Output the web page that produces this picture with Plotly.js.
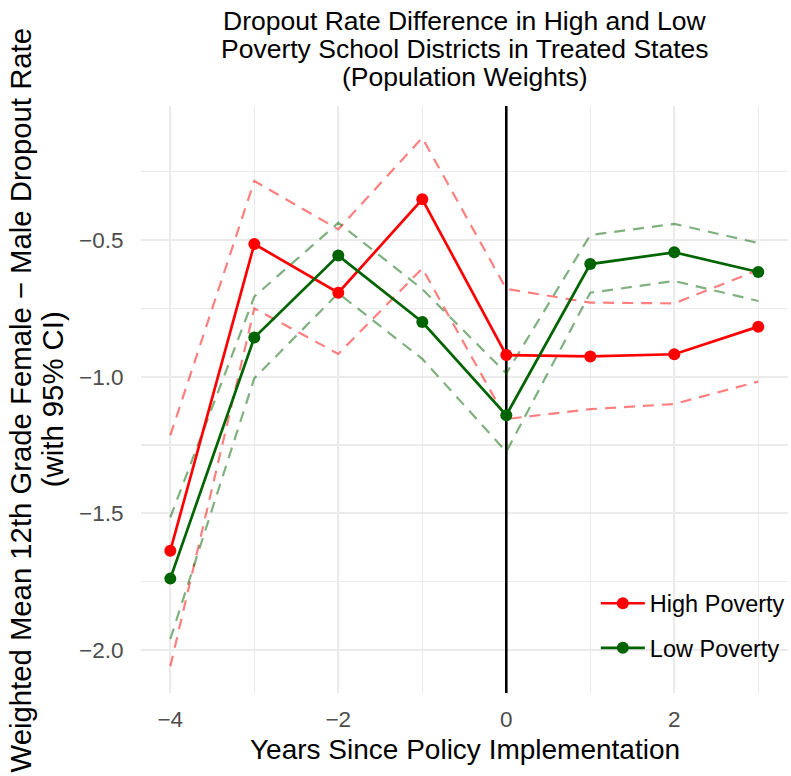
<!DOCTYPE html>
<html>
<head>
<meta charset="utf-8">
<script src="https://cdn.plot.ly/plotly-3.0.1.min.js"></script>
<style>html,body{margin:0;padding:0;background:#fff;}#chart{width:791px;height:776px;}</style>
</head>
<body>
<div id="chart"></div>
<script>
const years = [-4, -3, -2, -1, 0, 1, 2, 3];
const highMean  = [-1.637, -0.515, -0.693, -0.351, -0.921, -0.926, -0.918, -0.817];
const highUpper = [-1.215, -0.284, -0.461, -0.126, -0.679, -0.729, -0.732, -0.610];
const highLower = [-2.060, -0.750, -0.917, -0.604, -1.155, -1.119, -1.100, -1.018];
const lowMean   = [-1.739, -0.857, -0.557, -0.800, -1.141, -0.588, -0.545, -0.617];
const lowUpper  = [-1.515, -0.707, -0.437, -0.680, -0.988, -0.482, -0.441, -0.511];
const lowLower  = [-1.960, -1.006, -0.695, -0.935, -1.275, -0.693, -0.650, -0.723];
const xTicks = [-4, -2, 0, 2];
const yTicks = [-2.0, -1.5, -1.0, -0.5];
const xRange = [-4.349, 3.354];
const yRange = [-2.1575, -0.0097];
const policyYear = 0;

const FONT = 'Liberation Sans, Arial, sans-serif';
const RED = '#FF0000', GREEN = '#006400';
const RED_CI = 'rgba(255,0,0,0.5)', GREEN_CI = 'rgba(0,100,0,0.5)';
const DASH = '11px,8px';

function ci(y, color) {
  return {x: years, y: y, mode: 'lines', type: 'scatter', showlegend: false, hoverinfo: 'skip',
          line: {color: color, width: 2.2, dash: DASH}};
}
const traces = [
  {x: [policyYear, policyYear], y: yRange, mode: 'lines', type: 'scatter', showlegend: false,
   hoverinfo: 'skip', line: {color: '#000', width: 2.6}},
  ci(highUpper, RED_CI), ci(highLower, RED_CI),
  ci(lowUpper, GREEN_CI), ci(lowLower, GREEN_CI),
  {x: years, y: highMean, mode: 'lines+markers', type: 'scatter', name: 'High Poverty', legendgroup: 'h',
   line: {color: RED, width: 2.7}, marker: {color: RED, size: 12}},
  {x: years, y: lowMean, mode: 'lines+markers', type: 'scatter', name: 'Low Poverty', legendgroup: 'l',
   line: {color: GREEN, width: 2.7}, marker: {color: GREEN, size: 12}}
];

const titleLines = ['Dropout Rate Difference in High and Low',
                    'Poverty School Districts in Treated States',
                    '(Population Weights)'];
const titleY = [1.1455, 1.0971, 1.0495];
const annotations = titleLines.map((t, i) => ({
  text: t, xref: 'paper', yref: 'paper', x: 0.5, y: titleY[i], xanchor: 'center', yanchor: 'middle',
  showarrow: false, font: {family: FONT, size: 26.5, color: '#000'}
}));
annotations.push({text: 'Weighted Mean 12th Grade Female \u2212 Male Dropout Rate', xref: 'paper', yref: 'paper',
  x: -0.1855, y: 0.5, xanchor: 'center', yanchor: 'middle', textangle: -90, showarrow: false,
  font: {family: FONT, size: 29.3, color: '#000'}});
annotations.push({text: '(with 95% CI)', xref: 'paper', yref: 'paper',
  x: -0.1365, y: 0.5, xanchor: 'center', yanchor: 'middle', textangle: -90, showarrow: false,
  font: {family: FONT, size: 29.3, color: '#000'}});
annotations.push({text: 'Years Since Policy Implementation', xref: 'paper', yref: 'paper',
  x: 0.5, y: -0.0963, xanchor: 'center', yanchor: 'middle', showarrow: false,
  font: {family: FONT, size: 28, color: '#000'}});

const layout = {
  width: 791, height: 776,
  margin: {l: 141, r: 3, t: 106, b: 83, pad: 0, autoexpand: false},
  paper_bgcolor: '#fff', plot_bgcolor: '#fff',
  font: {family: FONT, color: '#000'},
  showlegend: true,
  legend: {x: 0.703, y: 0.19, xanchor: 'left', yanchor: 'top', bgcolor: 'rgba(0,0,0,0)',
           itemwidth: 44,
           font: {family: FONT, size: 23.5, color: '#000'}, traceorder: 'grouped', tracegroupgap: 11},
  xaxis: {range: xRange, tickvals: xTicks, ticktext: xTicks.map(v => v < 0 ? '\u2212' + Math.abs(v) : String(v)),
          showgrid: true, gridcolor: '#EBEBEB', gridwidth: 2, zeroline: false, showline: false,
          ticks: 'outside', ticklen: 6, tickcolor: 'rgba(0,0,0,0)',
          tickfont: {family: FONT, size: 22.5, color: '#4D4D4D'},
          minor: {dtick: 1, tick0: -3, showgrid: true, gridcolor: '#EBEBEB', gridwidth: 1.1}},
  yaxis: {range: yRange, tickvals: yTicks, ticktext: yTicks.map(v => '\u2212' + Math.abs(v).toFixed(1)),
          showgrid: true, gridcolor: '#EBEBEB', gridwidth: 2, zeroline: false, showline: false,
          ticks: 'outside', ticklen: 12, tickcolor: 'rgba(0,0,0,0)',
          tickfont: {family: FONT, size: 22.5, color: '#4D4D4D'},
          minor: {dtick: 0.25, tick0: -2.25, showgrid: true, gridcolor: '#EBEBEB', gridwidth: 1.1}},
  annotations: annotations
};

Plotly.newPlot('chart', traces, layout, {displayModeBar: false, staticPlot: true});
</script>
</body>
</html>
